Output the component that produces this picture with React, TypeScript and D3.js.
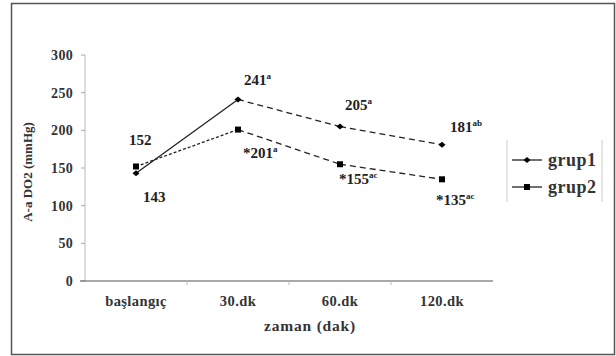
import React from 'react';
import * as d3 from 'd3';

const categories = ['başlangıç', '30.dk', '60.dk', '120.dk'];
const grup1 = [143, 241, 205, 181];
const grup2 = [152, 201, 155, 135];
const yTicks = [0, 50, 100, 150, 200, 250, 300];
// value labels: [prefix, number, superscript]
const grup1Labels = [['', '143', ''], ['', '241', 'a'], ['', '205', 'a'], ['', '181', 'ab']];
const grup2Labels = [['', '152', ''], ['*', '201', 'a'], ['*', '155', 'ac'], ['*', '135', 'ac']];
const seriesNames = ['grup1', 'grup2'];

const W = 616;
const H = 356;
const margin = { left: 85, right: 123, top: 55, bottom: 75 };
const font = 'Liberation Serif';

export default function App() {
  const x = d3.scaleBand().domain(categories).range([margin.left, W - margin.right]);
  const y = d3.scaleLinear().domain([0, 300]).range([H - margin.bottom, margin.top]);
  const cx = (c: string) => (x(c) as number) + x.bandwidth() / 2;

  const seg = (vals: number[], i: number) =>
    d3.line<number>().x((_, k) => cx(categories[i + k])).y(d => y(d))([vals[i], vals[i + 1]]) as string;

  // label offsets relative to point (dx, dy), text starts at dx
  const g1Off = [[7, 29], [6, -14], [5, -17], [8, -13]];
  const g2Off = [[-7, -21], [5, 28], [-1, 20], [-6, 26]];

  const label = (lab: string[], i: number, vals: number[], off: number[], key: string) => (
    <text key={key} x={cx(categories[i]) + off[0]} y={y(vals[i]) + off[1]}
      fontFamily={font} fontWeight="bold" fontSize={15} fill="#222">
      {lab[0]}{lab[1]}
      {lab[2] && <tspan fontSize={9} dy={-6}>{lab[2]}</tspan>}
    </text>
  );

  const diamond = (px: number, py: number, k: string) => (
    <path key={k} d={`M${px - 3.5},${py} L${px},${py - 3} L${px + 3.5},${py} L${px},${py + 3} Z`} fill="#000" />
  );
  const square = (px: number, py: number, k: string) => (
    <rect key={k} x={px - 3} y={py - 3} width={6} height={6} fill="#000" />
  );

  return (
    <svg width={W} height={H} style={{ position: 'absolute', left: 0, top: 0, background: '#fff' }}>
      {/* frame */}
      <rect x={11.5} y={3.5} width={603} height={351} fill="none" stroke="#555" strokeWidth={1.5} />

      {/* y axis */}
      <line x1={margin.left} x2={margin.left} y1={y(300)} y2={y(0)} stroke="#bbb" />
      {yTicks.map(t => (
        <g key={t}>
          <line x1={margin.left - 4} x2={margin.left} y1={y(t)} y2={y(t)} stroke="#aaa" />
          <text x={73} y={y(t)} dy="0.35em" textAnchor="end" fontFamily={font} fontWeight="bold" fontSize={14} letterSpacing={0.3} fill="#333">{t}</text>
        </g>
      ))}
      <text transform={`translate(32,${(y(0) + y(300)) / 2 + 4}) rotate(-90)`} textAnchor="middle"
        fontFamily={font} fontWeight="bold" fontSize={13} fill="#333">A-a DO2 (mmHg)</text>

      {/* x axis */}
      <line x1={margin.left - 5} x2={W - margin.right} y1={y(0)} y2={y(0)} stroke="#555" strokeWidth={1.2} />
      {categories.slice(1).map(c => (
        <line key={c} x1={x(c) as number} x2={x(c) as number} y1={y(0)} y2={y(0) + 4} stroke="#bbb" />
      ))}
      {categories.map(c => (
        <text key={c} x={cx(c)} y={y(0) + 25} textAnchor="middle" fontFamily={font} fontWeight="bold" fontSize={14.5} letterSpacing={0.4} fill="#333">{c}</text>
      ))}
      <text x={310} y={331} textAnchor="middle" fontFamily={font} fontWeight="bold" fontSize={15.5} letterSpacing={0.8} fill="#333">zaman (dak)</text>

      {/* grup2 */}
      {grup2.slice(0, -1).map((_, i) => (
        <path key={'g2' + i} d={seg(grup2, i)} fill="none" stroke="#222" strokeWidth={1.3}
          strokeDasharray={i === 0 ? '3,2' : '6,4'} />
      ))}
      {/* grup1 */}
      {grup1.slice(0, -1).map((_, i) => (
        <path key={'g1' + i} d={seg(grup1, i)} fill="none" stroke="#222" strokeWidth={1.3}
          strokeDasharray={i === 0 ? undefined : '6,4'} />
      ))}
      {grup2.map((v, i) => square(cx(categories[i]), y(v), 's' + i))}
      {grup1.map((v, i) => diamond(cx(categories[i]), y(v), 'd' + i))}

      {grup1Labels.map((l, i) => label(l, i, grup1, g1Off[i], 'l1' + i))}
      {grup2Labels.map((l, i) => label(l, i, grup2, g2Off[i], 'l2' + i))}

      {/* legend */}
      <line x1={507} x2={507} y1={140} y2={202} stroke="#ccc" />
      <line x1={602} x2={602} y1={140} y2={202} stroke="#ccc" />
      {seriesNames.map((n, i) => {
        const ly = 160 + i * 27;
        return (
          <g key={n}>
            <line x1={512} x2={542} y1={ly} y2={ly} stroke="#222" strokeWidth={1.3} />
            {i === 0 ? diamond(527, ly, 'ld') : square(527, ly, 'ls')}
            <text x={548} y={ly} dy="0.35em" fontFamily={font} fontWeight="bold" fontSize={18} letterSpacing={0.5} fill="#333">{n}</text>
          </g>
        );
      })}
    </svg>
  );
}
